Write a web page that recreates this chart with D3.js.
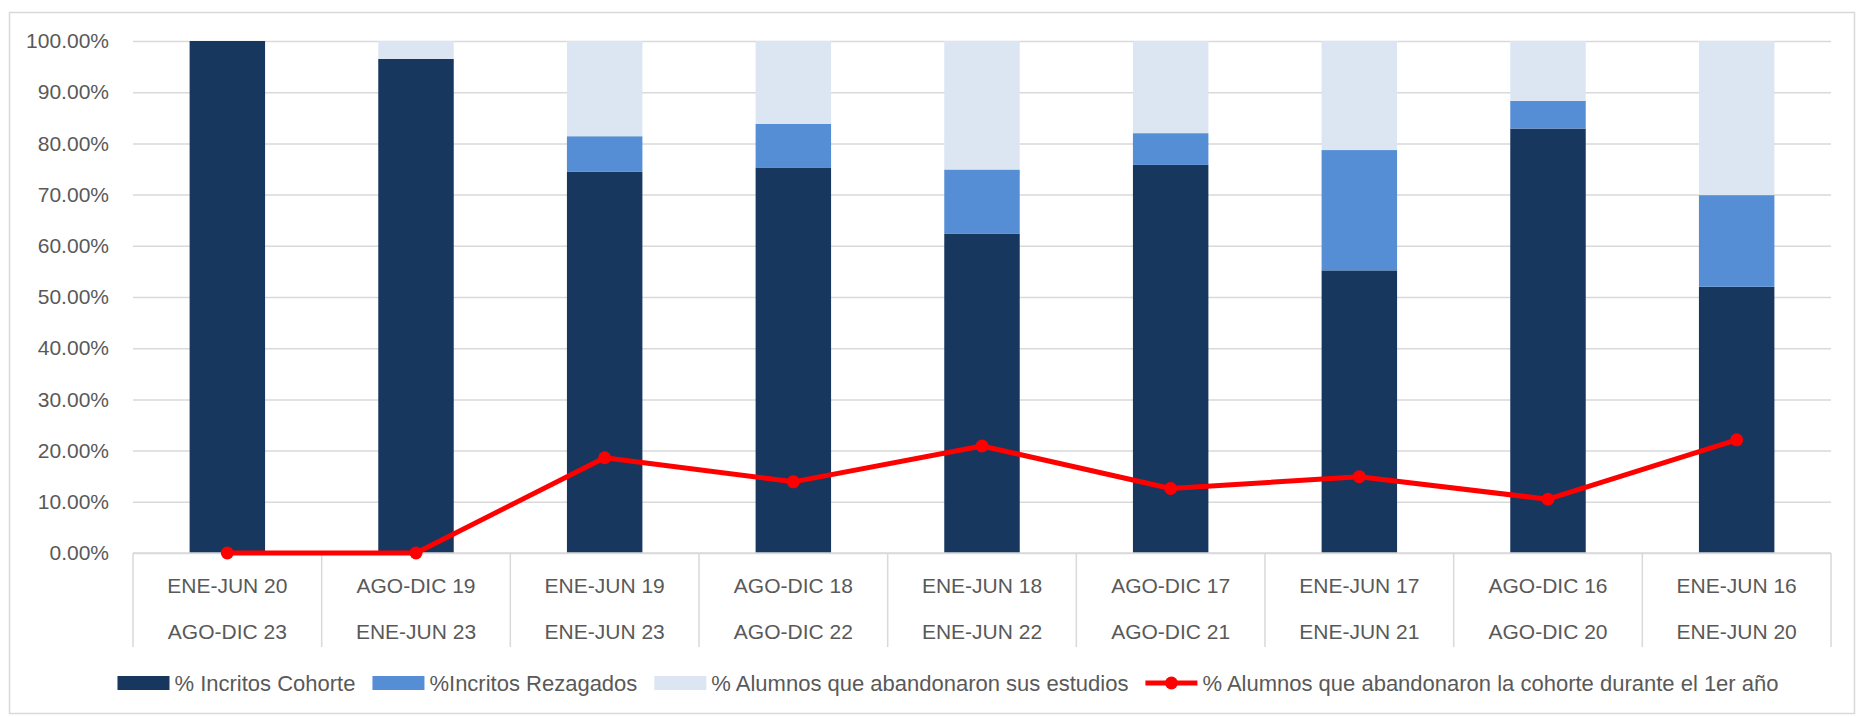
<!DOCTYPE html>
<html>
<head>
<meta charset="utf-8">
<script src="https://cdn.jsdelivr.net/npm/d3@7"></script>
<style>
  html, body { margin: 0; padding: 0; background: #fff; }
  svg { display: block; }
  text { font-family: "Liberation Sans", Arial, sans-serif; fill: #595959; }
</style>
</head>
<body>
<svg id="chart" width="1858" height="717"></svg>
<script>
// ---- Data ----
const periodStart = ["ENE-JUN 20","AGO-DIC 19","ENE-JUN 19","AGO-DIC 18","ENE-JUN 18","AGO-DIC 17","ENE-JUN 17","AGO-DIC 16","ENE-JUN 16"];
const periodEnd   = ["AGO-DIC 23","ENE-JUN 23","ENE-JUN 23","AGO-DIC 22","ENE-JUN 22","AGO-DIC 21","ENE-JUN 21","AGO-DIC 20","ENE-JUN 20"];
const inscritosCohorte   = [100.0, 96.5, 74.5, 75.3, 62.4, 75.8, 55.2, 82.9, 52.0];
const inscritosRezagados = [0.0, 0.0, 6.9, 8.5, 12.5, 6.2, 23.5, 5.4, 17.9];
const abandonaronEstudios = [0.0, 3.5, 18.6, 16.2, 25.1, 18.0, 21.3, 11.7, 30.1];
const abandonaron1erAnio = [0.0, 0.0, 18.6, 13.9, 20.9, 12.6, 14.9, 10.5, 22.1];
const yTicks = [0,10,20,30,40,50,60,70,80,90,100];
const seriesNames = ["% Incritos Cohorte", "%Incritos Rezagados", "% Alumnos que abandonaron sus estudios", "% Alumnos que abandonaron la cohorte durante el 1er año"];
const seriesColors = ["#17375E", "#558ED5", "#DCE6F2", "#FF0000"];

// ---- Layout ----
const svg = d3.select("#chart");
const W = 1858, H = 717;
const plot = { left: 133, right: 1831, top: 41, bottom: 553 };
const tableBottom = 647;
const fs = 21;

// outer border
svg.append("rect").attr("x", 9.5).attr("y", 12.5).attr("width", W - 13).attr("height", H - 16)
  .attr("fill", "none").attr("stroke", "#d9d9d9").attr("stroke-width", 1.5);

const x = d3.scaleBand().domain(d3.range(periodStart.length)).range([plot.left, plot.right]).paddingInner(0).paddingOuter(0);
const y = d3.scaleLinear().domain([0, 100]).range([plot.bottom, plot.top]);
const barW = x.bandwidth() * 0.4;

// gridlines
const yAxis = d3.axisLeft(y).tickValues(yTicks).tickFormat(d => d3.format(".2f")(d) + "%").tickSize(-(plot.right - plot.left)).tickPadding(24);
const gy = svg.append("g").attr("transform", `translate(${plot.left},0)`).call(yAxis);
gy.select(".domain").remove();
gy.selectAll(".tick line").attr("stroke", "#d9d9d9").attr("stroke-width", 1.5);
gy.selectAll(".tick text").attr("font-size", fs).attr("fill", "#595959").style("font-family", '"Liberation Sans", Arial, sans-serif');

// stacked bars
const stackData = periodStart.map((p, i) => ({ i, a: inscritosCohorte[i], b: inscritosRezagados[i], c: abandonaronEstudios[i] }));
const stack = d3.stack().keys(["a", "b", "c"])(stackData);
const gBars = svg.append("g");
stack.forEach((layer, li) => {
  gBars.append("g").selectAll("rect").data(layer).join("rect")
    .attr("x", d => x(d.data.i) + (x.bandwidth() - barW) / 2)
    .attr("width", barW)
    .attr("y", d => y(d[1]))
    .attr("height", d => Math.max(0, y(d[0]) - y(d[1])))
    .attr("fill", seriesColors[li]);
});

// category axis table
const gTable = svg.append("g");
gTable.append("line").attr("x1", plot.left).attr("x2", plot.right).attr("y1", plot.bottom).attr("y2", plot.bottom)
  .attr("stroke", "#d9d9d9").attr("stroke-width", 1.5);
const bounds = d3.range(periodStart.length + 1).map(i => i < periodStart.length ? x(i) : plot.right);
gTable.selectAll("line.sep").data(bounds).join("line").attr("class", "sep")
  .attr("x1", d => d).attr("x2", d => d).attr("y1", plot.bottom).attr("y2", tableBottom)
  .attr("stroke", "#d9d9d9").attr("stroke-width", 1.5);
gTable.selectAll("text.r1").data(periodStart).join("text").attr("class", "r1")
  .attr("x", (d, i) => x(i) + x.bandwidth() / 2).attr("y", 586).attr("dy", "0.35em")
  .attr("text-anchor", "middle").attr("font-size", fs).text(d => d);
gTable.selectAll("text.r2").data(periodEnd).join("text").attr("class", "r2")
  .attr("x", (d, i) => x(i) + x.bandwidth() / 2).attr("y", 632).attr("dy", "0.35em")
  .attr("text-anchor", "middle").attr("font-size", fs).text(d => d);

// line series
const line = d3.line().x((d, i) => x(i) + x.bandwidth() / 2).y(d => y(d));
svg.append("path").datum(abandonaron1erAnio).attr("d", line)
  .attr("fill", "none").attr("stroke", seriesColors[3]).attr("stroke-width", 5).attr("stroke-linejoin", "round");
svg.append("g").selectAll("circle").data(abandonaron1erAnio).join("circle")
  .attr("cx", (d, i) => x(i) + x.bandwidth() / 2).attr("cy", d => y(d)).attr("r", 6.5)
  .attr("fill", seriesColors[3]);

// legend
const legY = 683;
const legFs = 22;
const gLeg = svg.append("g");
let cursor = 0;
const swW = 52, swGap = 5, itemGap = 17;
seriesNames.forEach((name, i) => {
  const g = gLeg.append("g");
  if (i < 3) {
    g.append("rect").attr("x", 0).attr("y", legY - 7).attr("width", swW).attr("height", 14).attr("fill", seriesColors[i]);
  } else {
    g.append("line").attr("x1", 0).attr("x2", swW).attr("y1", legY).attr("y2", legY)
      .attr("stroke", seriesColors[i]).attr("stroke-width", 5);
    g.append("circle").attr("cx", swW / 2).attr("cy", legY).attr("r", 6.5).attr("fill", seriesColors[i]);
  }
  const t = g.append("text").attr("x", swW + swGap).attr("y", legY).attr("dy", "0.35em").attr("font-size", legFs).text(name);
  const w = swW + swGap + t.node().getComputedTextLength();
  g.attr("transform", `translate(${cursor},0)`);
  cursor += w + itemGap;
});
const totalW = cursor - itemGap;
const legCenter = 948;
gLeg.attr("transform", `translate(${legCenter - totalW / 2},0)`);
</script>
</body>
</html>
